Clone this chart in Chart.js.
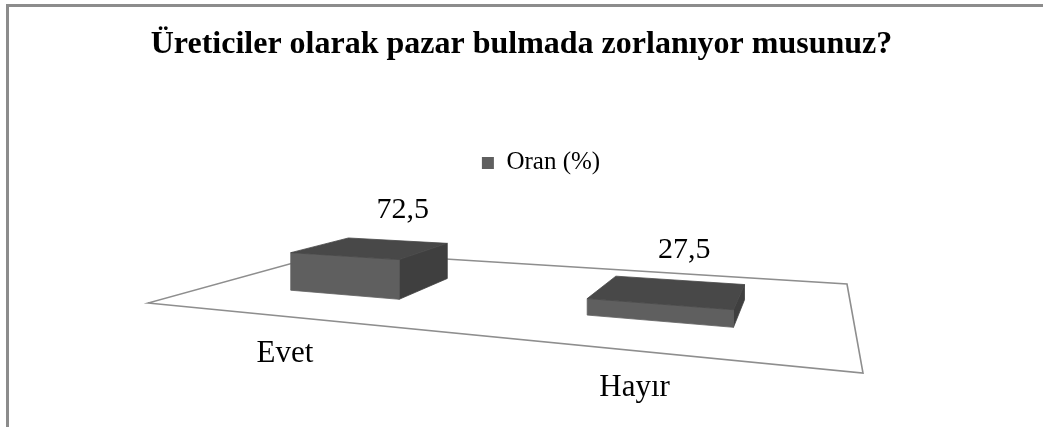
<!DOCTYPE html>
<html><head><meta charset="utf-8">
<script src="https://cdn.jsdelivr.net/npm/chart.js@4.4.1/dist/chart.umd.min.js"></script>
<style>
html,body{margin:0;padding:0;background:#fff;}
#wrap{position:relative;width:1043px;height:427px;overflow:hidden;}
#frame{position:absolute;left:6px;top:4px;width:1100px;height:500px;border-top:3px solid #8c8c8c;border-left:3px solid #8c8c8c;pointer-events:none;}
canvas{position:absolute;left:0;top:0;}
</style></head><body>
<div id="wrap"><canvas id="c" width="1043" height="427"></canvas><div id="frame"></div></div>
<script>
// ---- data ----
const categories = ['Evet', 'Hayır'];
const seriesName = 'Oran (%)';
const values = [72.5, 27.5];
const titleText = 'Üreticiler olarak pazar bulmada zorlanıyor musunuz?';

// ---- layout / style constants ----
const FLOOR = [[148,303],[863,373],[847,284],[333,252]]; // front-left, front-right, back-right, back-left
const DEPTH = [0.30, 0.645];       // bar footprint depth on the floor
const HEIGHT_SCALE = 0.555;        // px of height per value unit at reference depth
const FACE = {front:'#5f5f5f', top:'#484848', side:'#3f3f3f'};
const SERIF = "'Liberation Serif', 'Times New Roman', serif";
Chart.defaults.font.family = SERIF;
Chart.defaults.color = '#000';

function homography(p){
  const [x0,y0]=p[0],[x1,y1]=p[1],[x2,y2]=p[2],[x3,y3]=p[3];
  const dx1=x1-x2, dy1=y1-y2, dx2=x3-x2, dy2=y3-y2, dx3=x0-x1+x2-x3, dy3=y0-y1+y2-y3;
  const den=dx1*dy2-dy1*dx2;
  const g=(dx3*dy2-dy3*dx2)/den, h=(dx1*dy3-dy1*dx3)/den;
  const a=x1-x0+g*x1, b=x3-x0+h*x3, c=x0, d=y1-y0+g*y1, e=y3-y0+h*y3, f=y0;
  return (u,v,z)=>{const w=g*u+h*v+1; return [(a*u+b*v+c)/w, (d*u+e*v+f)/w - (z||0)/w];};
}

function poly(ctx, pts, fill, stroke, lw){
  ctx.beginPath(); pts.forEach((p,i)=> i?ctx.lineTo(p[0],p[1]):ctx.moveTo(p[0],p[1])); ctx.closePath();
  if(fill){ctx.fillStyle=fill; ctx.fill();}
  if(stroke){ctx.strokeStyle=stroke; ctx.lineWidth=lw||1; ctx.stroke();}
}

const bars3d = {
  id:'bars3d',
  beforeDatasetsDraw(chart){
    const ctx=chart.ctx, area=chart.chartArea, ys=chart.scales.y;
    const P=homography(FLOOR);
    ctx.save();
    ctx.lineJoin='miter';
    poly(ctx, [P(0,0),P(1,0),P(1,1),P(0,1)], '#ffffff', '#8e8e8e', 1.6);
    const pxPerUnit = ys.getPixelForValue(0)-ys.getPixelForValue(1);
    const meta=chart.getDatasetMeta(0);
    meta.data.forEach((bar,i)=>{
      const uc=(bar.x-area.left)/area.width, hw=bar.width/2/area.width;
      const u0=uc-hw, u1=uc+hw, v0=DEPTH[0], v1=DEPTH[1];
      const z=(bar.base-bar.y)/pxPerUnit*HEIGHT_SCALE;
      const front=[P(u0,v0,0),P(u1,v0,0),P(u1,v0,z),P(u0,v0,z)];
      const side=[P(u1,v0,0),P(u1,v1,0),P(u1,v1,z),P(u1,v0,z)];
      const top=[P(u0,v0,z),P(u1,v0,z),P(u1,v1,z),P(u0,v1,z)];
      poly(ctx, side, FACE.side, FACE.side, 0.8);
      poly(ctx, front, FACE.front, FACE.front, 0.8);
      poly(ctx, top, FACE.top, FACE.top, 0.8);
      // value label
      const lab=P(uc,v1,z);
      ctx.fillStyle='#000'; ctx.font='30px '+SERIF; ctx.textAlign='center'; ctx.textBaseline='middle';
      ctx.fillText(values[i].toFixed(1).replace('.',','), lab[0]+6, lab[1]-30);
      // category label
      const cp=P(uc,0,0);
      ctx.font='31px '+SERIF;
      ctx.fillText(chart.data.labels[i], cp[0], cp[1]+37);
    });
    ctx.restore();
    return false;
  }
};

new Chart(document.getElementById('c'), {
  type:'bar',
  data:{labels:categories, datasets:[{label:seriesName, data:values, backgroundColor:FACE.front, borderWidth:0,
    categoryPercentage:0.8, barPercentage:0.5}]},
  options:{
    responsive:false, animation:false, devicePixelRatio:1,
    layout:{padding:0},
    scales:{
      x:{display:false},
      y:{display:true, min:0, max:100, grid:{display:false, drawTicks:false}, border:{display:false},
         ticks:{display:false}, afterFit:(s)=>{s.width=39;}}
    },
    plugins:{
      title:{display:true, text:titleText, color:'#000', font:{family:SERIF, size:32, weight:'bold'},
             padding:{top:26, bottom:76}},
      legend:{display:true, position:'top', fullSize:false,
              labels:{color:'#000', font:{family:SERIF, size:25}, boxWidth:12, boxHeight:12, padding:10}},
      tooltip:{enabled:false}
    }
  },
  plugins:[bars3d]
});
</script>
</body></html>
